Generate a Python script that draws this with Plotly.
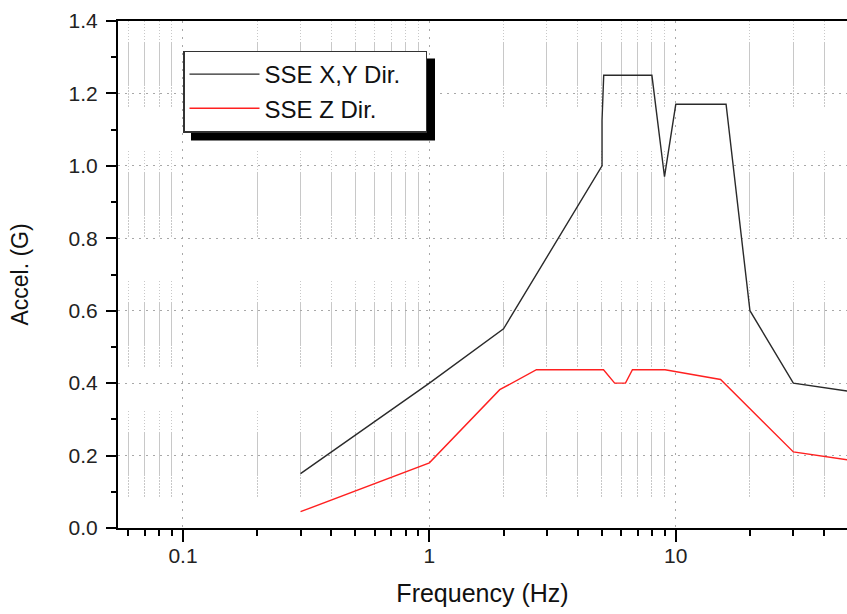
import plotly.graph_objects as go

# ---- data ----
freq_xy = [0.3, 1.0, 2.0, 5.02, 5.02, 5.1, 8.0, 9.0, 10.0, 16.0, 20.0, 30.0, 50.0]
acc_xy = [0.15, 0.40, 0.55, 1.00, 1.126, 1.25, 1.25, 0.97, 1.17, 1.17, 0.60, 0.40, 0.378]

freq_z = [0.3, 1.0, 1.93, 2.72, 5.09, 5.65, 6.25, 6.67, 9.05, 15.2, 30.0, 50.0]
acc_z = [0.045, 0.18, 0.382, 0.437, 0.437, 0.40, 0.40, 0.437, 0.437, 0.41, 0.21, 0.188]

x_major_vals = [0.1, 1, 10]
x_major_text = ["0.1", "1", "10"]
x_minor_vals = [0.06, 0.07, 0.08, 0.09,
                0.2, 0.3, 0.4, 0.5, 0.6, 0.7, 0.8, 0.9,
                2, 3, 4, 5, 6, 7, 8, 9,
                20, 30, 40]
y_major_vals = [0.0, 0.2, 0.4, 0.6, 0.8, 1.0, 1.2, 1.4]

FONT = "Liberation Sans, Arial, sans-serif"
W, H = 847, 614
ML, MR, MT = 118, 0, 21
PH = 507
MB = H - MT - PH
PW = W - ML - MR

minor_dash = ",".join(["1px,2px"] * 7) + ",44px"
NB = "\u00a0"

def px_x(p):  # pixel -> paper fraction
    return (p - ML) / PW

def px_y(p):
    return (MT + PH - p) / PH

fig = go.Figure()
fig.add_trace(go.Scatter(x=freq_xy, y=acc_xy, mode="lines", name="SSE X,Y Dir." + NB * 3,
                         line=dict(color="#2a2a2a", width=1.4)))
fig.add_trace(go.Scatter(x=freq_z, y=acc_z, mode="lines", name="SSE Z Dir.",
                         line=dict(color="#ff2020", width=1.4)))

# legend drop shadow (box offset +8 px right and down)
LEG_L, LEG_R, LEG_T, LEG_B = 183, 427, 50.5, 132.5
fig.add_shape(type="rect", xref="paper", yref="paper",
              x0=px_x(LEG_L + 8), x1=px_x(LEG_R + 8),
              y0=px_y(LEG_B + 8), y1=px_y(LEG_T + 8),
              fillcolor="black", line=dict(width=0), layer="above")

fig.update_layout(
    width=W, height=H,
    margin=dict(l=ML, r=MR, t=MT, b=MB, pad=0, autoexpand=False),
    paper_bgcolor="white", plot_bgcolor="white",
    font=dict(family=FONT, color="#222"),
    showlegend=True,
    legend=dict(x=px_x(LEG_L), y=px_y(91.5), xanchor="left", yanchor="middle",
                bgcolor="white", bordercolor="#333", borderwidth=1.5,
                font=dict(family=FONT, size=24, color="#111"),
                itemwidth=70, tracegroupgap=0),
    xaxis=dict(
        type="log", range=[-1.2637, 1.6949], automargin=False,
        tickmode="array", tickvals=x_major_vals, ticktext=x_major_text,
        ticks="outside", ticklen=12, tickwidth=2, tickcolor="black",
        tickfont=dict(size=21, color="#222"), ticklabelstandoff=-4,
        showline=True, linecolor="black", linewidth=2, mirror=True,
        showgrid=True, gridcolor="#a8a8a8", gridwidth=1, griddash="2px,6px",
        zeroline=False,
        minor=dict(tickmode="array", tickvals=x_minor_vals, ticks="outside",
                   ticklen=6, tickwidth=2, tickcolor="black",
                   showgrid=True, gridcolor="#c8c8c8", gridwidth=1,
                   griddash=minor_dash),
        title=dict(text="Frequency (Hz)", font=dict(size=25, color="#111"),
                   standoff=18),
    ),
    yaxis=dict(
        range=[0, 1.4], tickmode="array", tickvals=y_major_vals, automargin=False,
        tickformat=".1f",
        ticks="outside", ticklen=10, tickwidth=2, tickcolor="black",
        tickfont=dict(size=21, color="#222"), ticklabelstandoff=4,
        showline=True, linecolor="black", linewidth=2, mirror=False,
        showgrid=True, gridcolor="#a8a8a8", gridwidth=1, griddash="2px,5px",
        zeroline=False,
        minor=dict(dtick=0.1, tick0=0, ticks="outside", ticklen=5, tickwidth=2,
                   tickcolor="black", showgrid=False),
        title=dict(text="Accel. (G)", font=dict(size=23, color="#111"),
                   standoff=34),
    ),
)

fig.write_html(
    "out.html",
    config={"displayModeBar": False},
    post_script="document.body.style.margin='0';document.body.style.overflow='hidden';",
)
